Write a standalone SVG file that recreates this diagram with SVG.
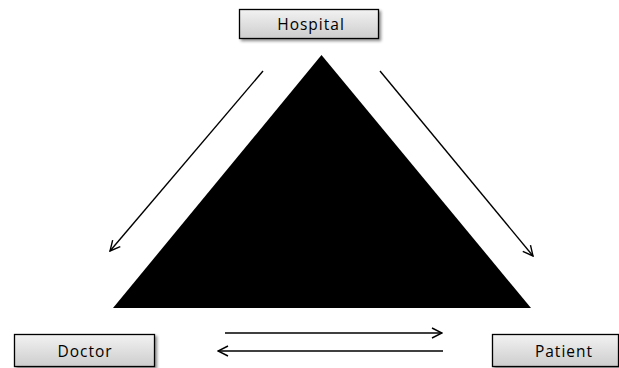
<svg xmlns="http://www.w3.org/2000/svg" width="619" height="368" viewBox="0 0 619 368">
<defs>
<linearGradient id="g" x1="0" y1="0" x2="0" y2="1">
<stop offset="0" stop-color="#f2f2f2"/>
<stop offset="1" stop-color="#cdcdcd"/>
</linearGradient>
<filter id="sh" x="-10%" y="-20%" width="125%" height="150%">
<feGaussianBlur in="SourceAlpha" stdDeviation="1.5"/>
<feOffset dx="1.5" dy="2" result="b"/>
<feComponentTransfer><feFuncA type="linear" slope="0.45"/></feComponentTransfer>
<feMerge><feMergeNode/><feMergeNode in="SourceGraphic"/></feMerge>
</filter>
<marker id="ah" viewBox="0 0 12 12" refX="11" refY="6" markerWidth="12" markerHeight="12" markerUnits="userSpaceOnUse" orient="auto">
<path d="M1,1 L11,6 L1,11" fill="none" stroke="#000" stroke-width="1.4"/>
</marker>
</defs>
<style>
.box{fill:url(#g);stroke:#000;stroke-width:1.3;filter:url(#sh)}
.lbl{font-family:"Open Sans","Noto Sans",sans-serif;font-size:15.5px;letter-spacing:1px;fill:#000;text-anchor:middle}
.c{stroke:#000;stroke-width:1.4;fill:none;marker-end:url(#ah)}
</style>
<rect width="619" height="368" fill="#fff"/>
<polygon id="triangle" points="321.5,55 531,308 113,308" fill="#000"/>
<g id="connectors">
<line class="c" x1="263" y1="71" x2="110" y2="251"/>
<line class="c" x1="380" y1="71" x2="533" y2="256"/>
<line class="c" x1="225" y1="333" x2="442" y2="333" stroke-width="1.8"/>
<line class="c" x1="443" y1="351" x2="218" y2="351"/>
</g>
<g id="hospital">
<rect class="box" x="239.5" y="9.5" width="139" height="29"/>
<text class="lbl" x="311" y="30">Hospital</text>
</g>
<g id="doctor">
<rect class="box" x="14.5" y="334.5" width="140" height="32"/>
<text class="lbl" x="85" y="357">Doctor</text>
</g>
<g id="patient">
<rect class="box" x="492.5" y="334.5" width="126" height="32"/>
<text class="lbl" x="564" y="357">Patient</text>
</g>
</svg>
